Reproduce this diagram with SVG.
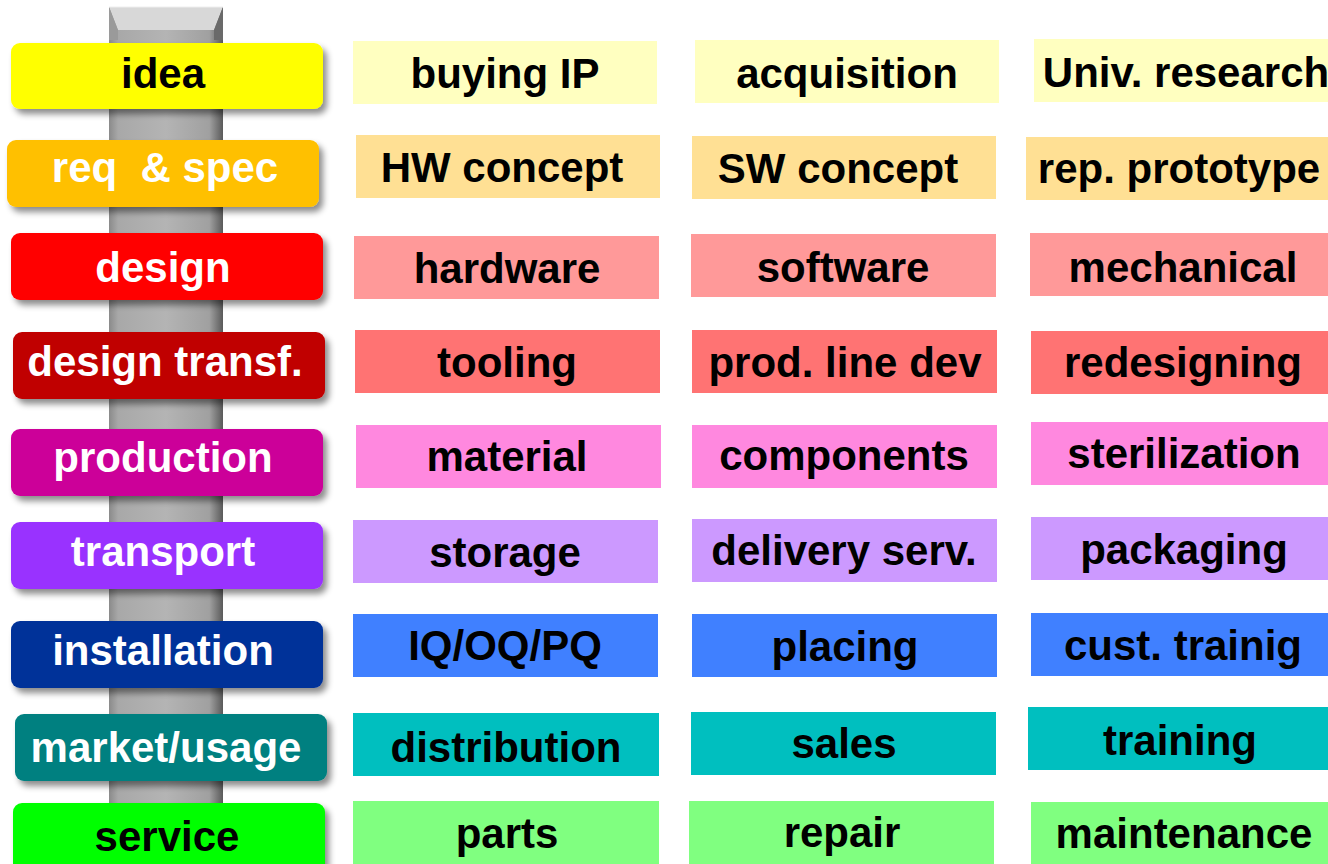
<svg xmlns="http://www.w3.org/2000/svg" width="1328" height="864" viewBox="0 0 1328 864">
<defs>
<linearGradient id="pillar" x1="0" y1="0" x2="1" y2="0">
<stop offset="0" stop-color="#8a8a8a"/>
<stop offset="0.08" stop-color="#a8a8a8"/>
<stop offset="0.5" stop-color="#b4b4b4"/>
<stop offset="0.88" stop-color="#a0a0a0"/>
<stop offset="1" stop-color="#5a5a5a"/>
</linearGradient>
<filter id="sh" x="-10%" y="-20%" width="125%" height="160%">
<feDropShadow dx="4" dy="5" stdDeviation="3" flood-color="#000" flood-opacity="0.45"/>
</filter>
<style>
.st{font-family:"Liberation Sans",Arial,sans-serif;font-weight:bold;font-size:42px;text-anchor:middle}
.w{fill:#fff}
.k{fill:#000}
.cell text{font-family:"Liberation Sans",Arial,sans-serif;font-weight:bold;font-size:42px;text-anchor:middle;fill:#000}
</style>
</defs>
<rect width="1328" height="864" fill="#fff"/>
<g id="pillar-g">
<rect x="109" y="7" width="114" height="857" fill="url(#pillar)"/>
<polygon points="109,7 223,7 214,30 118,30" fill="#d8d8d8"/>
<polygon points="109,7 118,30 118,40 109,40" fill="#9a9a9a"/>
<polygon points="223,7 214,30 214,40 223,40" fill="#6a6a6a"/>
<line x1="109" y1="7" x2="223" y2="7" stroke="#eee" stroke-width="1"/>
</g>
<g id="stage-idea"><rect x="11" y="43" width="312" height="66" rx="9" fill="#FFFF00" filter="url(#sh)"/><text class="st k" x="163" y="88">idea</text></g>
<g id="stage-req"><rect x="7" y="140" width="312" height="67" rx="9" fill="#FFC000" filter="url(#sh)"/><text class="st w" x="165" y="182" xml:space="preserve">req  &amp; spec</text></g>
<g id="stage-design"><rect x="11" y="233" width="312" height="67" rx="9" fill="#FF0000" filter="url(#sh)"/><text class="st w" x="163" y="282">design</text></g>
<g id="stage-dt"><rect x="13" y="332" width="312" height="67" rx="9" fill="#C00000" filter="url(#sh)"/><text class="st w" x="165" y="376">design transf.</text></g>
<g id="stage-prod"><rect x="11" y="429" width="312" height="67" rx="9" fill="#CC0099" filter="url(#sh)"/><text class="st w" x="163" y="472">production</text></g>
<g id="stage-transport"><rect x="11" y="522" width="312" height="67" rx="9" fill="#9933FF" filter="url(#sh)"/><text class="st w" x="163" y="566">transport</text></g>
<g id="stage-install"><rect x="11" y="621" width="312" height="67" rx="9" fill="#003399" filter="url(#sh)"/><text class="st w" x="163" y="665">installation</text></g>
<g id="stage-market"><rect x="15" y="714" width="312" height="67" rx="9" fill="#008080" filter="url(#sh)"/><text class="st w" x="166" y="762">market/usage</text></g>
<g id="stage-service"><rect x="13" y="803" width="312" height="70" rx="9" fill="#00FF00" filter="url(#sh)"/><text class="st k" x="167" y="851">service</text></g>

<g id="r1c1" class="cell"><rect x="353" y="41" width="304" height="63" fill="#FFFFC0"/><text x="505" y="88">buying IP</text></g>
<g id="r1c2" class="cell"><rect x="695" y="40" width="304" height="63" fill="#FFFFC0"/><text x="847" y="88">acquisition</text></g>
<g id="r1c3" class="cell"><rect x="1034" y="39" width="294" height="63" fill="#FFFFC0"/><text x="1186" y="87">Univ. research</text></g>

<g id="r2c1" class="cell"><rect x="356" y="135" width="304" height="63" fill="#FFE094"/><text x="502" y="182">HW concept</text></g>
<g id="r2c2" class="cell"><rect x="692" y="136" width="304" height="63" fill="#FFE094"/><text x="838" y="183">SW concept</text></g>
<g id="r2c3" class="cell"><rect x="1026" y="137" width="302" height="63" fill="#FFE094"/><text x="1179" y="183">rep. prototype</text></g>

<g id="r3c1" class="cell"><rect x="354" y="236" width="305" height="63" fill="#FF9999"/><text x="507" y="283">hardware</text></g>
<g id="r3c2" class="cell"><rect x="691" y="234" width="305" height="63" fill="#FF9999"/><text x="843" y="282">software</text></g>
<g id="r3c3" class="cell"><rect x="1030" y="233" width="298" height="63" fill="#FF9999"/><text x="1183" y="282">mechanical</text></g>

<g id="r4c1" class="cell"><rect x="355" y="330" width="305" height="63" fill="#FF7373"/><text x="507" y="377">tooling</text></g>
<g id="r4c2" class="cell"><rect x="692" y="330" width="305" height="63" fill="#FF7373"/><text x="845" y="377">prod. line dev</text></g>
<g id="r4c3" class="cell"><rect x="1031" y="331" width="297" height="63" fill="#FF7373"/><text x="1183" y="377">redesigning</text></g>

<g id="r5c1" class="cell"><rect x="356" y="425" width="305" height="63" fill="#FF88DF"/><text x="507" y="471">material</text></g>
<g id="r5c2" class="cell"><rect x="692" y="425" width="305" height="63" fill="#FF88DF"/><text x="844" y="470">components</text></g>
<g id="r5c3" class="cell"><rect x="1031" y="422" width="297" height="63" fill="#FF88DF"/><text x="1184" y="468">sterilization</text></g>

<g id="r6c1" class="cell"><rect x="353" y="520" width="305" height="63" fill="#CC99FF"/><text x="505" y="567">storage</text></g>
<g id="r6c2" class="cell"><rect x="692" y="519" width="305" height="63" fill="#CC99FF"/><text x="844" y="565">delivery serv.</text></g>
<g id="r6c3" class="cell"><rect x="1031" y="517" width="297" height="63" fill="#CC99FF"/><text x="1184" y="564">packaging</text></g>

<g id="r7c1" class="cell"><rect x="353" y="614" width="305" height="63" fill="#4080FF"/><text x="505" y="660">IQ/OQ/PQ</text></g>
<g id="r7c2" class="cell"><rect x="692" y="614" width="305" height="63" fill="#4080FF"/><text x="845" y="661">placing</text></g>
<g id="r7c3" class="cell"><rect x="1031" y="613" width="297" height="63" fill="#4080FF"/><text x="1183" y="660">cust. trainig</text></g>

<g id="r8c1" class="cell"><rect x="353" y="713" width="306" height="63" fill="#00BFBF"/><text x="506" y="762">distribution</text></g>
<g id="r8c2" class="cell"><rect x="691" y="712" width="305" height="63" fill="#00BFBF"/><text x="844" y="758">sales</text></g>
<g id="r8c3" class="cell"><rect x="1028" y="707" width="300" height="63" fill="#00BFBF"/><text x="1180" y="755">training</text></g>

<g id="r9c1" class="cell"><rect x="353" y="801" width="306" height="63" fill="#80FF80"/><text x="507" y="848">parts</text></g>
<g id="r9c2" class="cell"><rect x="689" y="801" width="305" height="63" fill="#80FF80"/><text x="842" y="847">repair</text></g>
<g id="r9c3" class="cell"><rect x="1031" y="802" width="297" height="62" fill="#80FF80"/><text x="1184" y="848">maintenance</text></g>
<g id="connectors"/>
</svg>
